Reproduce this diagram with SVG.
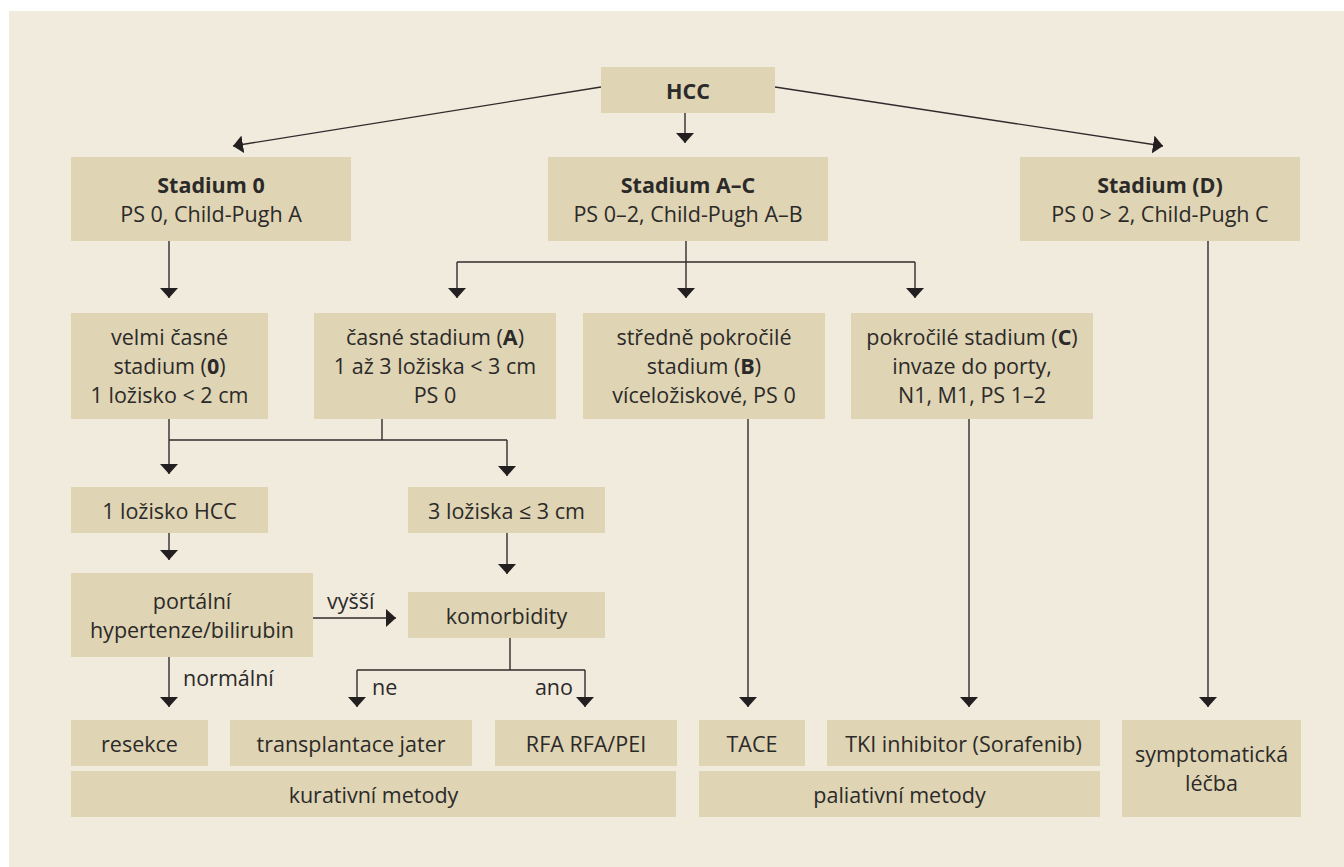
<svg xmlns="http://www.w3.org/2000/svg" width="1344" height="867" viewBox="0 0 1344 867">
<defs>
<marker id="ah" viewBox="0 0 10 18" markerWidth="10" markerHeight="18" refX="10" refY="9" orient="auto" markerUnits="userSpaceOnUse">
<path d="M0,0 L10,9 L0,18 Z" fill="#231f20"/>
</marker>
</defs>
<style>
.box{fill:#dfd4b4}
.t{font-family:"Open Sans","Noto Sans","Liberation Sans",sans-serif;font-size:21.5px;fill:#2b2a29;text-anchor:middle}
.b{font-weight:bold}
.lab{font-family:"Open Sans","Noto Sans","Liberation Sans",sans-serif;font-size:21.5px;fill:#2b2a29}
.c line{stroke:#2f2b2c;stroke-width:1.4;fill:none}
.c .a{marker-end:url(#ah)}
</style>
<rect x="9" y="11" width="1335" height="856" fill="#f1ebdd"/>

<g class="c" id="connectors">
<line class="a" x1="601" y1="87" x2="233" y2="146"/>
<line class="a" x1="685" y1="113" x2="685" y2="143"/>
<line class="a" x1="775" y1="87" x2="1163" y2="146"/>
<line class="a" x1="169" y1="241" x2="169" y2="298"/>
<line x1="686" y1="241" x2="686" y2="262"/>
<line x1="457" y1="262" x2="915" y2="262"/>
<line class="a" x1="457" y1="262" x2="457" y2="298"/>
<line class="a" x1="686" y1="262" x2="686" y2="298"/>
<line class="a" x1="915" y1="262" x2="915" y2="298"/>
<line class="a" x1="1208" y1="241" x2="1208" y2="707"/>
<line x1="169" y1="419" x2="169" y2="440"/>
<line x1="382" y1="419" x2="382" y2="440"/>
<line x1="169" y1="440" x2="507" y2="440"/>
<line class="a" x1="169" y1="440" x2="169" y2="474"/>
<line class="a" x1="507" y1="440" x2="507" y2="476"/>
<line class="a" x1="169" y1="533" x2="169" y2="560"/>
<line class="a" x1="507" y1="533" x2="507" y2="574"/>
<line class="a" x1="313" y1="618" x2="396" y2="618"/>
<line class="a" x1="169" y1="657" x2="169" y2="707"/>
<line x1="510" y1="638" x2="510" y2="670"/>
<line x1="357" y1="670" x2="585" y2="670"/>
<line class="a" x1="357" y1="670" x2="357" y2="707"/>
<line class="a" x1="585" y1="670" x2="585" y2="707"/>
<line class="a" x1="748" y1="419" x2="748" y2="707"/>
<line class="a" x1="969" y1="419" x2="969" y2="707"/>
<text class="lab" x="327" y="609">vyšší</text>
<text class="lab" x="183" y="686">normální</text>
<text class="lab" x="372" y="695">ne</text>
<text class="lab" x="573" y="695" text-anchor="end">ano</text>
</g>

<g id="hcc"><rect class="box" x="601" y="67" width="174" height="46"/><text class="t b" x="688" y="99">HCC</text></g>
<g id="stadium0"><rect class="box" x="71" y="157" width="280" height="84"/><text class="t b" x="211" y="193">Stadium 0</text><text class="t" x="211" y="222">PS 0, Child-Pugh A</text></g>
<g id="stadiumAC"><rect class="box" x="548" y="157" width="280" height="84"/><text class="t b" x="688" y="193">Stadium A–C</text><text class="t" x="688" y="222">PS 0–2, Child-Pugh A–B</text></g>
<g id="stadiumD"><rect class="box" x="1020" y="157" width="280" height="84"/><text class="t b" x="1160" y="193">Stadium (D)</text><text class="t" x="1160" y="222">PS 0 &gt; 2, Child-Pugh C</text></g>

<g id="velmi"><rect class="box" x="71" y="313" width="197" height="106"/><text class="t" x="169.5" y="345">velmi časné</text><text class="t" x="169.5" y="374">stadium (<tspan class="b">0</tspan>)</text><text class="t" x="169.5" y="403">1 ložisko &lt; 2 cm</text></g>
<g id="casne"><rect class="box" x="314" y="313" width="242" height="106"/><text class="t" x="435" y="345">časné stadium (<tspan class="b">A</tspan>)</text><text class="t" x="435" y="374">1 až 3 ložiska &lt; 3 cm</text><text class="t" x="435" y="403">PS 0</text></g>
<g id="stredne"><rect class="box" x="583" y="313" width="242" height="106"/><text class="t" x="704" y="345">středně pokročilé</text><text class="t" x="704" y="374">stadium (<tspan class="b">B</tspan>)</text><text class="t" x="704" y="403">víceložiskové, PS 0</text></g>
<g id="pokrocile"><rect class="box" x="851" y="313" width="242" height="106"/><text class="t" x="972" y="345">pokročilé stadium (<tspan class="b">C</tspan>)</text><text class="t" x="972" y="374">invaze do porty,</text><text class="t" x="972" y="403">N1, M1, PS 1–2</text></g>

<g id="lozisko1"><rect class="box" x="71" y="487" width="197" height="46"/><text class="t" x="169.5" y="519">1 ložisko HCC</text></g>
<g id="loziska3"><rect class="box" x="408" y="487" width="197" height="46"/><text class="t" x="506.5" y="519">3 ložiska ≤ 3 cm</text></g>
<g id="portalni"><rect class="box" x="71" y="573" width="242" height="84"/><text class="t" x="192" y="609">portální</text><text class="t" x="192" y="638">hypertenze/bilirubin</text></g>
<g id="komorbidity"><rect class="box" x="408" y="592" width="197" height="46"/><text class="t" x="506.5" y="624">komorbidity</text></g>

<g id="resekce"><rect class="box" x="71" y="720" width="137" height="46"/><text class="t" x="139.5" y="752">resekce</text></g>
<g id="transplantace"><rect class="box" x="230" y="720" width="242" height="46"/><text class="t" x="351" y="752">transplantace jater</text></g>
<g id="rfa"><rect class="box" x="495" y="720" width="182" height="46"/><text class="t" x="586" y="752">RFA RFA/PEI</text></g>
<g id="tace"><rect class="box" x="699" y="720" width="106" height="46"/><text class="t" x="752" y="752">TACE</text></g>
<g id="tki"><rect class="box" x="827" y="720" width="273" height="46"/><text class="t" x="963.5" y="752">TKI inhibitor (Sorafenib)</text></g>
<g id="kurativni"><rect class="box" x="71" y="771" width="605" height="46"/><text class="t" x="373.5" y="803">kurativní metody</text></g>
<g id="paliativni"><rect class="box" x="699" y="771" width="401" height="46"/><text class="t" x="899.5" y="803">paliativní metody</text></g>
<g id="symptomaticka"><rect class="box" x="1122" y="720" width="179" height="97"/><text class="t" x="1211.5" y="762">symptomatická</text><text class="t" x="1211.5" y="791">léčba</text></g>
</svg>
